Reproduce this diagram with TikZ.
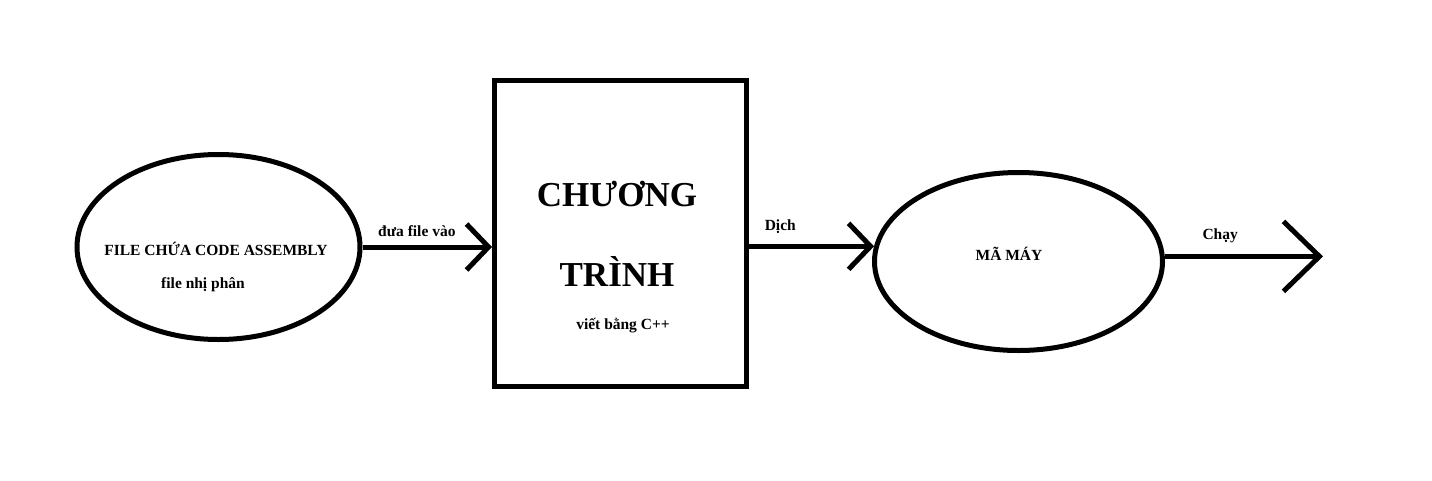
\documentclass[tikz,border=0pt]{standalone}
\usepackage{fontspec}
\setmainfont{Liberation Serif}
\usetikzlibrary{shapes.geometric, arrows.meta, positioning}

\tikzset{
  oval/.style={draw, ellipse, line width=5pt, inner sep=0pt},
  block/.style={draw, rectangle, line width=5pt, inner sep=0pt},
  txt/.style={font=\bfseries\fontsize{15.5}{18}\selectfont, inner sep=0pt},
  bigtxt/.style={font=\bfseries\fontsize{35}{40}\selectfont, inner sep=0pt},
  flow/.style={line width=5pt, -{Straight Barb[length=22pt, width=46pt, line width=5pt]}},
}

\begin{document}
\begin{tikzpicture}[x=1pt, y=-1pt]
  \useasboundingbox (0,0) rectangle (1432,480);

  % input file
  \node[oval, minimum width=283pt, minimum height=185pt] (fileasm) at (218.5,247) {};
  \node[txt] (fileasmtitle) at (216,249) {FILE CHỨA CODE ASSEMBLY};
  \node[txt] (fileasmsub) at (203,285) {file nhị phân};

  % program
  \node[block, minimum width=252pt, minimum height=306pt] (prog) at (620.5,233.5) {};
  \node[bigtxt] (progline1) at (617,194) {CHƯƠNG};
  \node[bigtxt] (progline2) at (617,271) {TRÌNH};
  \node[txt] (proglang) at (623,326) {viết bằng C++};

  % machine code
  \node[oval, minimum width=288pt, minimum height=178pt] (mamay) at (1018.5,261.5) {};
  \node[txt] (mamaytext) at (1009,254) {MÃ MÁY};

  \coordinate (runend) at (1323,255);

  % connectors
  \draw[flow] (fileasm.east) -- (prog.west |- fileasm.east)
    node[pos=0.42, above=8pt, txt] (lbl1) {đưa file vào};
  \draw[flow] (prog.east |- mamay.174) -- (mamay.174)
    node[pos=0.25, above=10pt, txt] (lbl2) {Dịch};
  \draw[line width=5pt, -{Straight Barb[length=36pt, width=70pt, line width=5pt]}] (mamay.2) -- (mamay.2 -| runend)
    node[pos=0.35, above=11pt, txt] (lbl3) {Chạy};
\end{tikzpicture}
\end{document}
